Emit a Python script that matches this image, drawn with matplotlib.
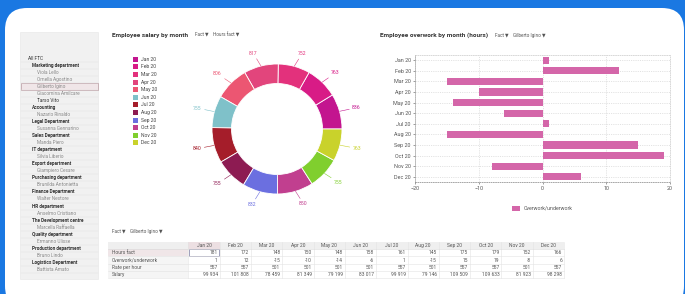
import numpy as np
import matplotlib as mpl

mpl.use('Agg')
import matplotlib.pyplot as plt
from matplotlib.patches import FancyBboxPatch, Rectangle

plt.rcParams['font.family'] = ['Roboto', 'DejaVu Sans']

# Data
months = ['Jan 20', 'Feb 20', 'Mar 20', 'Apr 20', 'May 20', 'Jun 20',
          'Jul 20', 'Aug 20', 'Sep 20', 'Oct 20', 'Nov 20', 'Dec 20']
donut_values = [836, 763, 752, 817, 806, 755, 840, 755, 832, 850, 755, 763]
donut_colors = ['#c3158f', '#d81b86', '#e3317c', '#e2457c', '#ec5672', '#7fc1c9',
                '#a51d2a', '#8d1b52', '#6b6fe0', '#c13f8f', '#80cf2e', '#c9d22b']
overwork = [1, 12, -15, -10, -14, -6, 1, -15, 15, 19, -8, 6]
hours_fact = [181, 172, 148, 150, 148, 158, 161, 145, 175, 179, 152, 166]
rate_per_hour = [557, 557, 501, 501, 501, 501, 557, 501, 557, 557, 501, 557]
salary = ['99 934', '101 808', '78 459', '81 349', '79 199', '83 017',
          '99 919', '79 146', '109 509', '109 633', '81 923', '98 298']
row_names = ['Hours fact', 'Overwork/underwork', 'Rate per hour', 'Salary']

tree = [('All FTC', 0), ('Marketing department', 1), ('Viola Lello', 2),
        ('Ornella Agostino', 2), ('Gilberto Igino', 2), ('Giacomina Amilcare', 2),
        ('Tarso Vito', 2), ('Accounting', 1), ('Nazario Rinaldo', 2),
        ('Legal Department', 1), ('Susanna Gennarino', 2), ('Sales Department', 1),
        ('Manda Piero', 2), ('IT department', 1), ('Silvia Liberio', 2),
        ('Export department', 1), ('Giampiero Cesare', 2), ('Purchasing department', 1),
        ('Brunilda Antonietta', 2), ('Finance Department', 1), ('Walter Nestore', 2),
        ('HR department', 1), ('Anselmo Cristiano', 2), ('The Development centre', 1),
        ('Marcella Raffaella', 2), ('Quality department', 1), ('Ermanno Ulisse', 2),
        ('Production department', 1), ('Bruno Lindo', 2), ('Logistics Department', 1),
        ('Battista Amato', 2)]
selected = 'Gilberto Igino'

W, H = 685, 294
fig = plt.figure(figsize=(W / 100, H / 100), dpi=100)
fig.patch.set_facecolor('#1a78e2')

# background axes in pixel coords
bg = fig.add_axes([0, 0, 1, 1])
bg.set_xlim(0, W)
bg.set_ylim(H, 0)
bg.axis('off')
bg.add_patch(FancyBboxPatch((5, 8), 679, 300, boxstyle='round,pad=0,rounding_size=22',
                            fc='white', ec='none'))

# sidebar
bg.add_patch(Rectangle((20.5, 32), 78, 247, fc='#f1f1f1', ec='#e6e6e6', lw=0.4))
y0, dy = 58, 7.05
for i, (name, lvl) in enumerate(tree):
    y = y0 + i * dy
    if name == selected:
        bg.add_patch(Rectangle((21, y - 3.3), 77, 6.6, fc='#f0e6e8', ec='#b89aa0', lw=0.5))
    bg.plot([21, 98], [y + 3.5, y + 3.5], color='#e2e2e2', lw=0.3)
    indent = [28, 32, 37][lvl]
    color = '#333333' if lvl < 2 or name == 'Tarso Vito' else '#8a8a8a'
    weight = 'bold' if lvl == 1 else 'normal'
    bg.text(indent, y, name, fontsize=3.4, color=color, weight=weight, va='center')

# titles
bg.text(112, 35, 'Employee salary by month', fontsize=4.6, weight='bold', color='#333333', va='center')
bg.text(195, 35, 'Fact \u25bc    Hours fact \u25bc', fontsize=3.3, color='#555555', va='center')
bg.text(380, 35, 'Employee overwork by month (hours)', fontsize=4.6, weight='bold', color='#333333', va='center')
bg.text(495, 35, 'Fact \u25bc    Gilberto Igino \u25bc', fontsize=3.3, color='#555555', va='center')

# donut legend
for i, (m, c) in enumerate(zip(months, donut_colors)):
    y = 59.3 + i * 7.6
    bg.add_patch(Rectangle((133.5, y - 2.5), 5, 5, fc=c, ec='none'))
    bg.text(141, y, m, fontsize=3.6, color='#444444', va='center')

# donut
cx, cy, r = 277, 129, 65
dax = fig.add_axes([(cx - 1.3 * r) / W, 1 - (cy + 1.3 * r) / H, 2.6 * r / W, 2.6 * r / H])
wedges, _ = dax.pie(donut_values, colors=donut_colors, startangle=0, counterclock=True,
                    wedgeprops=dict(width=0.3, edgecolor='white', linewidth=0.6))
dax.set_xlim(-1.3, 1.3)
dax.set_ylim(-1.3, 1.3)
dax.set_aspect('equal')
for w, v, c in zip(wedges, donut_values, donut_colors):
    ang = np.deg2rad((w.theta1 + w.theta2) / 2)
    ca, sa = np.cos(ang), np.sin(ang)
    dax.annotate(str(v), xy=(ca, sa), xytext=(1.2 * ca, 1.2 * sa),
                 fontsize=3.7, color=c, ha='left' if ca > 0.05 else ('right' if ca < -0.05 else 'center'),
                 va='center', arrowprops=dict(arrowstyle='-', color=c, lw=0.4, shrinkA=0, shrinkB=0))

# overwork bar chart
bax = fig.add_axes([415 / W, 1 - 182 / H, 255 / W, 127 / H])
ypos = np.arange(len(months))
bax.barh(ypos, overwork, height=0.68, color='#d466a9', label='Overwork/underwork', zorder=3)
bax.set_yticks(ypos)
bax.set_yticklabels(months)
bax.set_ylim(len(months) - 0.5, -0.5)
bax.set_xlim(-20, 20)
bax.set_xticks([-20, -10, 0, 10, 20])
bax.tick_params(labelsize=3.9, colors='#555555', length=1.5, width=0.4, pad=1.5)
bax.grid(True, ls=(0, (2, 2)), lw=0.4, color='#cccccc', zorder=0)
for s in bax.spines.values():
    s.set_linestyle((0, (2, 2)))
    s.set_linewidth(0.4)
    s.set_color('#bbbbbb')
bax.spines['bottom'].set_color('#666666')
bax.spines['left'].set_color('#999999')
bax.spines['left'].set_linestyle('-')
bax.legend(loc='upper center', bbox_to_anchor=(0.5, -0.15), frameon=False, fontsize=3.8,
           handlelength=1.4, handleheight=1.0, labelcolor='#555555')

# table
bg.text(112, 232, 'Fact \u25bc    Gilberto Igino \u25bc', fontsize=3.3, color='#555555', va='center')
tx0, tx1, col0, cw = 108, 564, 188.5, 31.3
hy, rh = 245.5, 7.3
bg.add_patch(Rectangle((tx0, hy - 3.6), tx1 - tx0, 7.2, fc='#efefef', ec='none'))
bg.add_patch(Rectangle((col0, hy - 3.6), cw, 7.2, fc='#ecdfe2', ec='none'))
bg.add_patch(Rectangle((tx0, hy + 3.6), col0 - tx0, rh, fc='#f0e6e8', ec='none'))
bg.add_patch(Rectangle((tx0, hy + 3.6 + rh), col0 - tx0, 3 * rh, fc='#f5f5f5', ec='none'))
for j, m in enumerate(months):
    bg.text(col0 + (j + 0.5) * cw, hy, m, fontsize=3.5, color='#555555', ha='center', va='center')
    bg.plot([col0 + j * cw] * 2, [hy - 3.6, hy + 3.6 + 4 * rh], color='#e3e3e3', lw=0.4)
bg.plot([tx1] * 2, [hy - 3.6, hy + 3.6 + 4 * rh], color='#e3e3e3', lw=0.4)
rows = [hours_fact, overwork, rate_per_hour, salary]
for i, (name, vals) in enumerate(zip(row_names, rows)):
    y = hy + 3.6 + (i + 0.5) * rh
    bg.plot([tx0, tx1], [y + rh / 2] * 2, color='#e3e3e3', lw=0.4)
    bg.text(tx0 + 4, y, name, fontsize=3.5, color='#555555', va='center')
    for j, v in enumerate(vals):
        bg.text(col0 + (j + 1) * cw - 2, y, str(v), fontsize=3.5, color='#555555',
                ha='right', va='center')
bg.plot([tx0, tx1], [hy + 3.6] * 2, color='#d8d8d8', lw=0.4)
bg.add_patch(Rectangle((col0 + 0.5, hy + 3.8), cw - 1, rh - 0.6, fc='none', ec='#7a7aa0', lw=0.5))

plt.savefig('out.png', dpi=100, facecolor=fig.get_facecolor())
